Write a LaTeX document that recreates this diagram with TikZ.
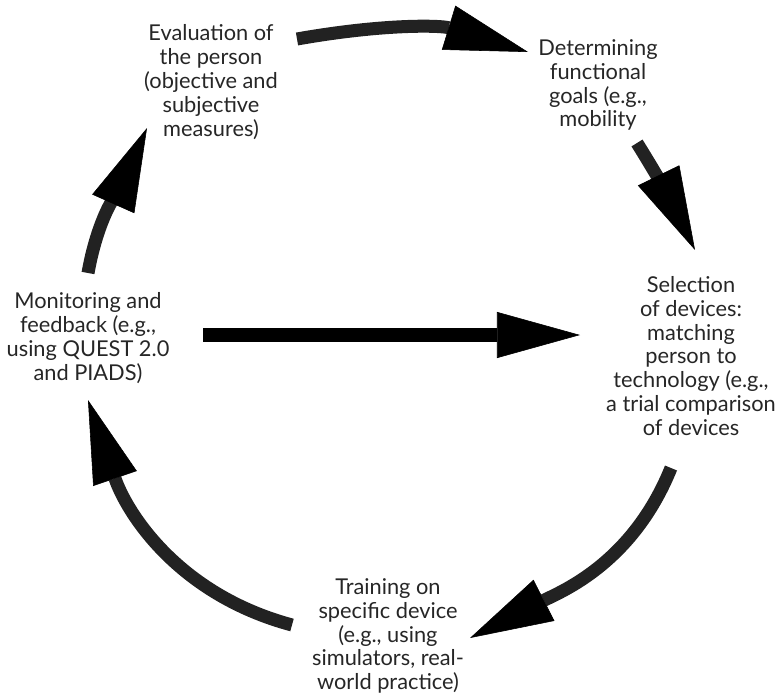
\documentclass[tikz,border=0pt]{standalone}
\usepackage{fontspec}
\setmainfont{Lato}
\usetikzlibrary{arrows.meta}
\definecolor{shaftgray}{RGB}{34,34,34}
\definecolor{textgray}{RGB}{38,38,38}
\tikzset{
  phase/.style={align=center,text=textgray,inner sep=0pt,font=\fontsize{15.5}{17}\selectfont},
  bighead/.style={-{Triangle[length=2.075cm 0 0,width=1.15cm 0 0,color=black,line width=0.4pt]}},
  cyclearrow/.style={bighead,draw=shaftgray,line width=0.325cm},
}

\begin{document}
\begin{tikzpicture}[x=0.025cm,y=0.025cm]
  \useasboundingbox (0,0) rectangle (777,-697);
  \node[phase] (eval) at (211,-82) {Evaluation of\\the person\\(objective and\\subjective\\measures)};
  \node[phase] (goals) at (598,-85) {Determining\\functional\\goals (e.g.,\\mobility};
  \node[phase] (select) at (691,-356) {Selection\\of devices:\\matching\\person to\\technology (e.g.,\\a trial comparison\\of devices};
  \node[phase] (train) at (388,-636) {Training on\\specific device\\(e.g., using\\simulators, real-\\world practice)};
  \node[phase] (monitor) at (88,-338) {Monitoring and\\feedback (e.g.,\\using QUEST 2.0\\and PIADS)};
  \coordinate (eval out) at (297,-39);
  \coordinate (goals in) at (528,-52);
  \coordinate (goals out) at (637,-143);
  \coordinate (select in) at (695,-250);
  \coordinate (select out) at (671,-468);
  \coordinate (train in) at (470,-638);
  \coordinate (train out) at (292,-625);
  \coordinate (monitor in) at (88,-400);
  \coordinate (monitor out) at (88,-273);
  \coordinate (eval in) at (147,-128);
  \coordinate (jump out) at (203,-335);
  \coordinate (jump in) at (580,-335);
  \draw[cyclearrow] (eval out) to[out=10,in=163] (goals in);
  \draw[cyclearrow] (goals out) to[out=-58,in=116] (select in);
  \draw[cyclearrow] (select out) to[out=-112,in=27] (train in);
  \draw[cyclearrow] (train out) to[out=165,in=-71] (monitor in);
  \draw[cyclearrow] (monitor out) to[out=80,in=-114] (eval in);
  \draw[bighead,line width=0.33cm] (jump out) -- (jump in);
\end{tikzpicture}
\end{document}
